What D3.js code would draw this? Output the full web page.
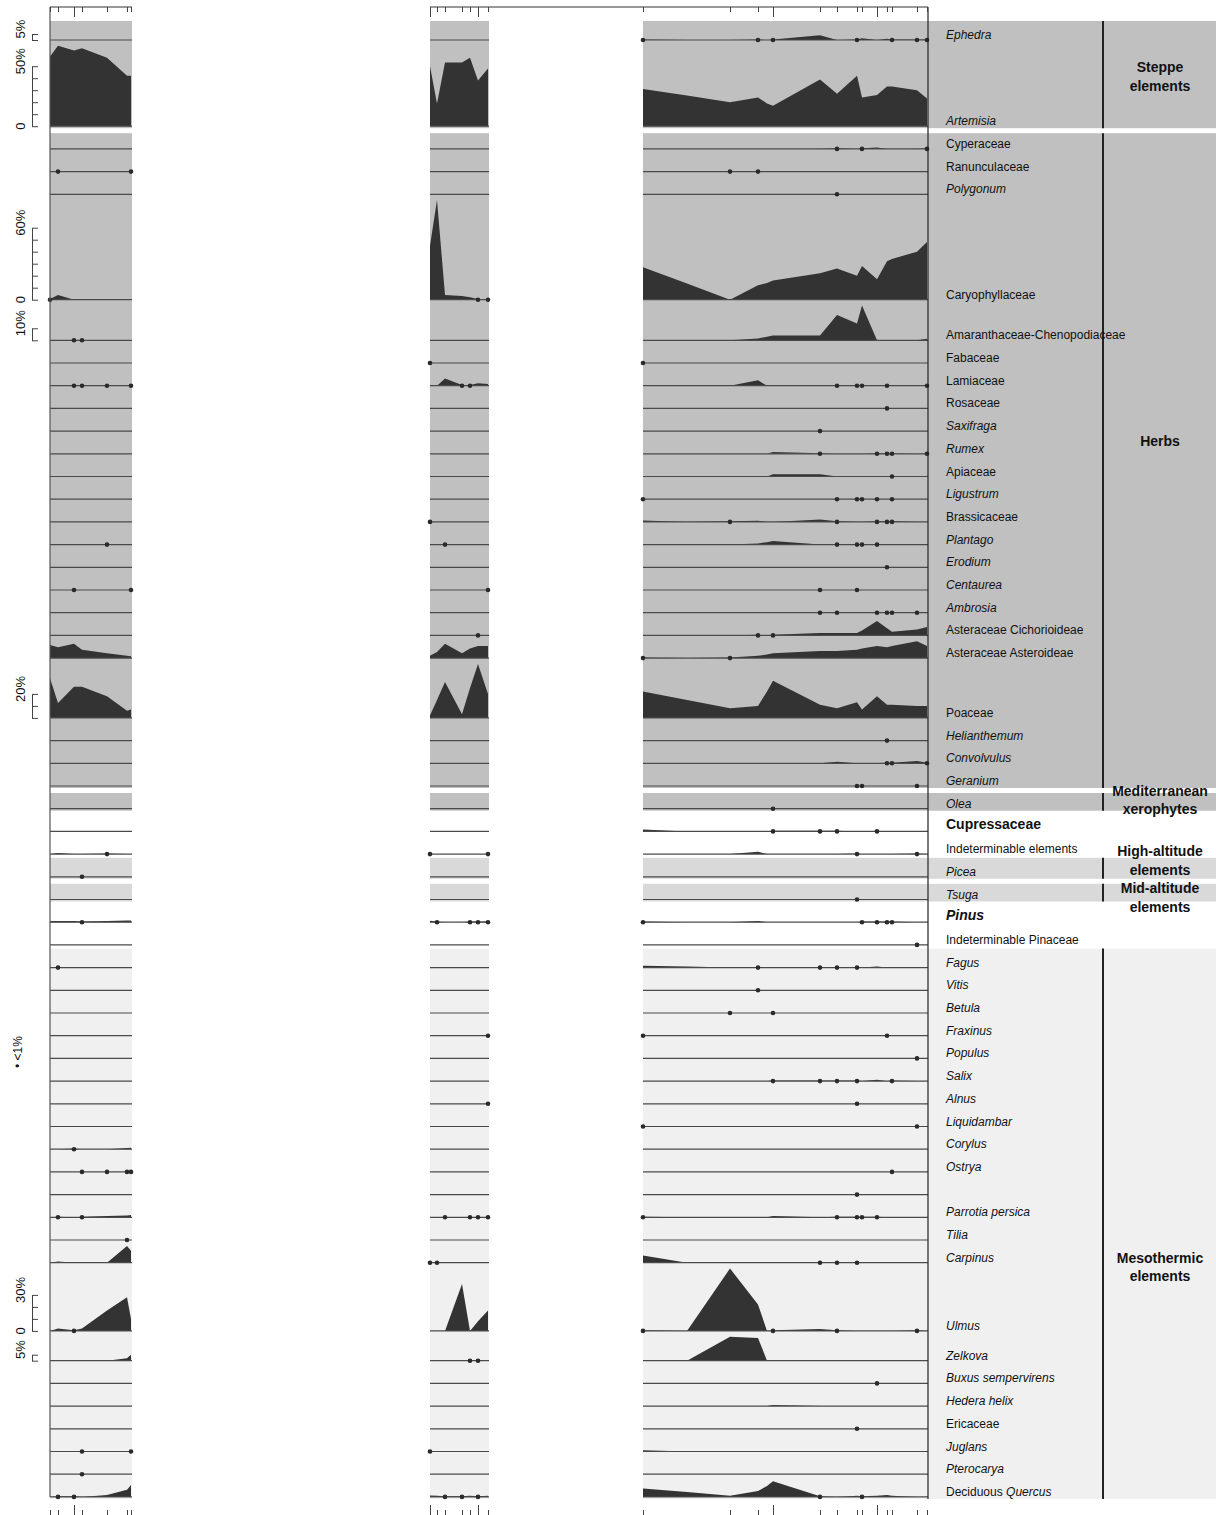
<!DOCTYPE html>
<html>
<head>
<meta charset="utf-8">
<script src="https://cdn.jsdelivr.net/npm/d3@7"></script>
<style>
  body { margin: 0; background: #fff; }
  text { font-family: "Liberation Sans", Arial, sans-serif; fill: #111; }
</style>
</head>
<body>
<div id="diagram"></div>
<script>
////////////////////////////////////////////////////////////////////////////
//////////////////////////////  data   /////////////////////////////////////

// sample depths of the three sections (cm from the section top)
var depthsA = [0, 8, 24, 32, 57, 77, 81];
var depthsB = [0, 7, 15, 32, 40, 48, 58];
var depthsC = [0, 44, 87, 115, 124, 130, 177, 194, 214, 219, 234, 244, 249, 274, 284];

// tick marks drawn on the top / bottom axes (long = reference levels)
var ticksA = [0, 8, 24, 32, 57, 77, 81];
var ticksB = [0, 7, 15, 32, 40, 48, 58];
var ticksC = [0, 87, 115, 130, 177, 194, 214, 219, 234, 244, 249, 274, 284];
var longTicksA = [24];
var longTicksB = [0, 48];
var longTicksC = [130, 234];

var taxa = [
  "Ephedra", "Artemisia",
  "Cyperaceae", "Ranunculaceae", "Polygonum", "Caryophyllaceae", "Amaranthaceae-Chenopodiaceae",
  "Fabaceae", "Lamiaceae", "Rosaceae", "Saxifraga", "Rumex", "Apiaceae", "Ligustrum",
  "Brassicaceae", "Plantago", "Erodium", "Centaurea", "Ambrosia", "Asteraceae Cichorioideae",
  "Asteraceae Asteroideae", "Poaceae", "Helianthemum", "Convolvulus", "Geranium",
  "Olea",
  "Cupressaceae", "Indeterminable elements",
  "Picea", "Tsuga",
  "Pinus", "Indeterminable Pinaceae",
  "Fagus", "Vitis", "Betula", "Fraxinus", "Populus", "Salix", "Alnus", "Liquidambar",
  "Corylus", "Ostrya", "", "Parrotia persica", "Tilia", "Carpinus", "Ulmus", "Zelkova",
  "Buxus sempervirens", "Hedera helix", "Ericaceae", "Juglans", "Pterocarya", "Deciduous Quercus"
];

// percentages, one row per taxon (0.5 = present below 1%)
var valuesA = [
  [0,0,0,0,0,0,0],
  [58,67,63,65,57,42,42],
  [0,0,0,0,0,0,0],
  [0,0.5,0,0,0,0,0.5],
  [0,0,0,0,0,0,0],
  [0.5,4,0,0,0,0,0],
  [0,0,0.5,0.5,0,0,0],
  [0,0,0,0,0,0,0],
  [0,0,0.5,0.5,0.5,0,0.5],
  [0,0,0,0,0,0,0],
  [0,0,0,0,0,0,0],
  [0,0,0,0,0,0,0],
  [0,0,0,0,0,0,0],
  [0,0,0,0,0,0,0],
  [0,0,0,0,0,0,0],
  [0,0,0,0,0.5,0,0],
  [0,0,0,0,0,0,0],
  [0,0,0.5,0,0,0,0.5],
  [0,0,0,0,0,0,0],
  [0,0,0,0,0,0,0],
  [11,9,12,7,4,2,1.5],
  [33,12.5,26,26,18,6,7],
  [0,0,0,0,0,0,0],
  [0,0,0,0,0,0,0],
  [0,0,0,0,0,0,0],
  [0,0,0,0,0,0,0],
  [0,0,0,0,0,0,0],
  [0,1,0,0,0.5,0,0],
  [0,0,0,0.5,0,0,0],
  [0,0,0,0,0,0,0],
  [1,1,1,0.5,1,1.5,1.5],
  [0,0,0,0,0,0,0],
  [0,0.5,0,0,0,0,0],
  [0,0,0,0,0,0,0],
  [0,0,0,0,0,0,0],
  [0,0,0,0,0,0,0],
  [0,0,0,0,0,0,0],
  [0,0,0,0,0,0,0],
  [0,0,0,0,0,0,0],
  [0,0,0,0,0,0,0],
  [0,0,0.5,0,0,1,1.2],
  [0,0,0,0.5,0.5,0.5,0.5],
  [0,0,0,0,0,0,0],
  [0,0.5,0,0.5,1,1.5,2],
  [0,0,0,0,0,0.5,0],
  [0,1,0,0,0,14,10],
  [0,2,0.5,2,17,28,10],
  [0,0,0,0,0,2,5],
  [0,0,0,0,0,0,0],
  [0,0,0,0,0,0,0],
  [0,0,0,0,0,0,0],
  [0,0,0,0.5,0,0,0.5],
  [0,0,0,0.5,0,0,0],
  [0,0.5,0.5,0,1.5,6,10]
];

var valuesB = [
  [0,0,0,0,0,0,0],
  [50,19,53,53,57,38,48],
  [0,0,0,0,0,0,0],
  [0,0,0,0,0,0,0],
  [0,0,0,0,0,0,0],
  [45,83,4,3,2,0.5,0.5],
  [0,0,0,0,0,0,0],
  [0.5,0,0,0,0,0,0],
  [0,0,6,0.5,0.5,2,1.5],
  [0,0,0,0,0,0,0],
  [0,0,0,0,0,0,0],
  [0,0,0,0,0,0,0],
  [0,0,0,0,0,0,0],
  [0,0,0,0,0,0,0],
  [0.5,0,0,0,0,0,0],
  [0,0,0.5,0,0,0,0],
  [0,0,0,0,0,0,0],
  [0,0,0,0,0,0,0.5],
  [0,0,0,0,0,0,0],
  [0,0,0,0,0,0.5,0],
  [2,5,12,4,8,10,10],
  [2,15,30,3,25,45,20],
  [0,0,0,0,0,0,0],
  [0,0,0,0,0,0,0],
  [0,0,0,0,0,0,0],
  [0,0,0,0,0,0,0],
  [0,0,0,0,0,0,0],
  [0.5,0,0,0,0,0,0.5],
  [0,0,0,0,0,0,0],
  [0,0,0,0,0,0,0],
  [1.2,0.5,0,0,0.5,0.5,0.5],
  [0,0,0,0,0,0,0],
  [0,0,0,0,0,0,0],
  [0,0,0,0,0,0,0],
  [0,0,0,0,0,0,0],
  [0,0,0,0,0,0,0.5],
  [0,0,0,0,0,0,0],
  [0,0,0,0,0,0,0],
  [0,0,0,0,0,0,0.5],
  [0,0,0,0,0,0,0],
  [0,0,0,0,0,0,0],
  [0,0,0,0,0,0,0],
  [0,0,0,0,0,0,0],
  [0,0,0.5,0,0.5,0.5,0.5],
  [0,0,0,0,0,0,0],
  [0.5,0.5,0,0,0,0,0],
  [0,0,0,39,0,8,17],
  [0,0,0,0,0.5,0.5,0],
  [0,0,0,0,0,0,0],
  [0,0,0,0,0,0,0],
  [0,0,0,0,0,0,0],
  [0.5,0,0,0,0,0,0],
  [0,0,0,0,0,0,0],
  [1.2,1,0.5,0.5,1,0.5,1]
];

var valuesC = [
  [0.5,0,0,0.5,0,0.5,4,0,0.5,1.5,0,1,0.5,0.5,0.5],
  [31,25.5,20,24,19,17,39,27,42,24,26,33,33,30,23],
  [0,0,0,0,0,0,0,0.5,0,0.5,1.2,0,0,0,0.5],
  [0,0,0.5,0.5,0,0,0,0,0,0,0,0,0,0,0],
  [0,0,0,0,0,0,0,0.5,0,0,0,0,0,0,0],
  [27,13.5,0,12,14,16,22,26,20,28,17,32,34,40,48],
  [0,0,0,1.5,3,4,4,21,14,29,0,0,0,0,1.2],
  [0.5,0,0,0,0,0,0,0,0,0,0,0,0,0,0],
  [0,0,0,4.5,0,0,0,0.5,0.5,0.5,0,0.5,0,0,0.5],
  [0,0,0,0,0,0,0,0,0,0,0,0.5,0,0,0],
  [0,0,0,0,0,0,0.5,0,0,0,0,0,0,0,0],
  [0,0,0,0,0,1.5,0.5,0,0,0,0.5,0.5,0.5,0,0.5],
  [0,0,0,0,0,1.8,1.8,0,0,0,0,0,0.5,0,0],
  [0.5,0,0,0,0,0,0,0.5,0.5,0.5,0.5,0,0.5,0,0],
  [1.2,0,0.5,1,0,0,2,0.5,0,0,0.5,0.5,0.5,0,0],
  [0,0,0,1,2,3,0,0.5,0.5,0.5,0.5,0,0,0,0],
  [0,0,0,0,0,0,0,0,0,0,0,0.5,0,0,0],
  [0,0,0,0,0,0,0.5,0,0.5,0,0,0,0,0,0],
  [0,0,0,0,0,0,0.5,0.5,0,0,0.5,0.5,0.5,0.5,0],
  [0,0,0,0.5,0,0.5,2,2,2,4,12,6,3,5,7],
  [0.5,0,0.5,2,3,4,6,6,7,8,10,9,10,14,10],
  [22,15,8,10,22,31,11,8,13,7,18,11,11,10,10],
  [0,0,0,0,0,0,0,0,0,0,0,0.5,0,0,0],
  [0,0,0,0,0,0,0,1.2,0,0,0,0.5,0.5,2,0.5],
  [0,0,0,0,0,0,0,0,0.5,0.5,0,0,0,0.5,0],
  [0,0,0,0,0,0.5,0,0,0,0,0,0,0,0,0],
  [1.5,0,0,0,0,0.5,0.5,0.5,0,0,0.5,0,0,0,0],
  [0,0,0,2,0,0,0,0,0.5,0,0,0,0,0.5,0],
  [0,0,0,0,0,0,0,0,0,0,0,0,0,0,0],
  [0,0,0,0,0,0,0,0,0.5,0,0,0,0,0,0],
  [0.5,0,0,1,0,0,0,0,0,0.5,0.5,0.5,0.5,0,0],
  [0,0,0,0,0,0,0,0,0,0,0,0,0,0.5,0],
  [1.5,1,0,0.5,0,0,0.5,0.5,0.5,0,1,0,0,0,0],
  [0,0,0,0.5,0,0,0,0,0,0,0,0,0,0,0],
  [0,0,0.5,0,0,0.5,0,0,0,0,0,0,0,0,0],
  [0.5,0,0,0,0,0,0,0,0,0,0,0.5,0,0,0],
  [0,0,0,0,0,0,0,0,0,0,0,0,0,0.5,0],
  [0,0,0,0,0,0.5,0.5,0.5,0.5,0,1.2,0,0.5,0,0],
  [0,0,0,0,0,0,0,0,0.5,0,0,0,0,0,0],
  [0.5,0,0,0,0,0,0,0,0,0,0,0,0,0.5,0],
  [0,0,0,0,0,0,0,0,0,0,0,0,0,0,0],
  [0,0,0,0,0,0,0,0,0,0,0,0,0.5,0,0],
  [0,0,0,0,0,0,0,0,0.5,0,0,0,0,0,0],
  [0.5,0,0,0,0,1,0,0.5,0.5,0.5,0.5,0,0,0,0],
  [0,0,0,0,0,0,0,0,0,0,0,0,0,0,0],
  [6,0,0,0,0,0,0.5,0.5,0.5,0,0,0,0,0,0],
  [0.5,0,52,22,0,0.5,1.5,0.5,0,0,0,0,0,0.5,0],
  [0,0,20,19,0,0,0,0,0,0,0,0,0,0,0],
  [0,0,0,0,0,0,0,0,0,0,0.5,0,0,0,0],
  [0,0,0,0,0,1,0,0,0,0,0,0,0,0,0],
  [0,0,0,0,0,0,0,0,0.5,0,0,0,0,0,0],
  [1,0,0,0,0,0,0,0,0,0,0,0,0,0,0],
  [0,0,0,0,0,0,0,0,0,0,0,0,0,0,0],
  [7,4,1,5,9,13,0.5,0,1,0.5,1,1.5,1,0,0]
];

var italicTaxa = ["Ephedra","Artemisia","Polygonum","Saxifraga","Rumex","Ligustrum","Plantago","Erodium",
  "Centaurea","Ambrosia","Helianthemum","Convolvulus","Geranium","Olea","Picea","Tsuga","Pinus","Fagus",
  "Vitis","Betula","Fraxinus","Populus","Salix","Alnus","Liquidambar","Corylus","Ostrya","Parrotia persica",
  "Tilia","Carpinus","Ulmus","Zelkova","Buxus sempervirens","Hedera helix","Juglans","Pterocarya"];
var boldTaxa = ["Cupressaceae", "Pinus"];

var groups = [
  {name: ["Steppe", "elements"], first: "Ephedra", last: "Artemisia", fill: "#c0c0c0"},
  {name: ["Herbs"], first: "Cyperaceae", last: "Geranium", fill: "#c0c0c0"},
  {name: ["Mediterranean", "xerophytes"], first: "Olea", last: "Olea", fill: "#c0c0c0"},
  {name: ["High-altitude", "elements"], first: "Picea", last: "Picea", fill: "#d9d9d9"},
  {name: ["Mid-altitude", "elements"], first: "Tsuga", last: "Tsuga", fill: "#d9d9d9"},
  {name: ["Mesothermic", "elements"], first: "Fagus", last: "Deciduous Quercus", fill: "#f0f0f0"}
];
var groupLabelNudge = [2, -20, -2, -8, 5, 43];

// percentage scale bars on the left
var scaleBars = [
  {taxon: "Ephedra", max: 5, zero: false},
  {taxon: "Artemisia", max: 50, zero: true},
  {taxon: "Caryophyllaceae", max: 60, zero: true},
  {taxon: "Amaranthaceae-Chenopodiaceae", max: 10, zero: false},
  {taxon: "Poaceae", max: 20, zero: false},
  {taxon: "Ulmus", max: 30, zero: true},
  {taxon: "Zelkova", max: 5, zero: false}
];

////////////////////////////////////////////////////////////////////////////
//////////////////////////////  layout   ///////////////////////////////////
var width = 1216, height = 1515;
var rowStep = 22.7;
var topY = 7, bottomY = 1515;

var pct = d3.scaleLinear().domain([0, 100]).range([0, 120]);

var panels = [
  {depths: depthsA, values: valuesA, x: d3.scaleLinear().domain([0, 82]).range([50, 132]), ticks: ticksA, long: longTicksA},
  {depths: depthsB, values: valuesB, x: d3.scaleLinear().domain([0, 59]).range([430, 489]), ticks: ticksB, long: longTicksB},
  {depths: depthsC, values: valuesC, x: d3.scaleLinear().domain([0, 285]).range([643, 928]), ticks: ticksC, long: longTicksC}
];

// baseline of every row, height grows with the row maximum
var baselines = [];
var acc = 40 - rowStep;
taxa.forEach(function(t, i) {
  var m = d3.max([].concat(valuesA[i], valuesB[i], valuesC[i]));
  acc += Math.max(rowStep, pct(m) + 5.8);
  baselines.push(acc);
});
var lastBase = baselines[baselines.length - 1];

var svg = d3.select("#diagram")
  .append("svg")
  .attr("width", width)
  .attr("height", height);

////////////////////////////////////////////////////////////////////////////
//////////////////////////////  group bands   //////////////////////////////
var bandG = svg.append("g").attr("class", "bands");
var prevBottom = -100;
groups.forEach(function(g, gi) {
  var top = baselines[taxa.indexOf(g.first)] - 19;
  var bot = baselines[taxa.indexOf(g.last)] + 2;
  if (top < prevBottom + 5) top = prevBottom + 5;   // white gap between touching groups
  prevBottom = bot;

  var spans = [[50, 132], [430, 489], [643, 1216]];
  spans.forEach(function(s) {
    bandG.append("rect")
      .attr("x", s[0]).attr("y", top)
      .attr("width", s[1] - s[0]).attr("height", bot - top)
      .attr("fill", g.fill);
  });
  bandG.append("line")
    .attr("x1", 1103).attr("x2", 1103)
    .attr("y1", top).attr("y2", bot)
    .attr("stroke", "#222").attr("stroke-width", 2);

  var cy = (top + bot) / 2 + groupLabelNudge[gi];
  var lh = 18.5;
  g.name.forEach(function(line, li) {
    bandG.append("text")
      .attr("x", 1160)
      .attr("y", cy - (g.name.length - 1) * lh / 2 + li * lh + 5)
      .attr("text-anchor", "middle")
      .attr("font-size", "14px")
      .attr("font-weight", "bold")
      .text(line);
  });
});

////////////////////////////////////////////////////////////////////////////
//////////////////////////////  curves   ///////////////////////////////////
var curveG = svg.append("g").attr("class", "curves");
taxa.forEach(function(t, i) {
  var b = baselines[i];
  panels.forEach(function(p) {
    var vals = p.values[i];
    var pts = p.depths.map(function(d, k) { return {d: d, v: vals[k]}; });

    if (d3.max(vals) >= 1) {
      var area = d3.area()
        .x(function(d) { return p.x(d.d); })
        .y0(b)
        .y1(function(d) { return b - pct(d.v); });
      curveG.append("path")
        .datum(pts)
        .attr("d", area)
        .attr("fill", "#333");
    }

    curveG.append("line")
      .attr("x1", p.x.range()[0]).attr("x2", p.x.range()[1])
      .attr("y1", b).attr("y2", b)
      .attr("stroke", "#4a4a4a").attr("stroke-width", 1.2);

    curveG.selectAll(null)
      .data(pts.filter(function(d) { return d.v > 0 && d.v < 1; }))
      .enter()
      .append("circle")
      .attr("cx", function(d) { return p.x(d.d); })
      .attr("cy", b)
      .attr("r", 2.3)
      .attr("fill", "#2a2a2a");
  });

  // taxon label
  if (t === "Deciduous Quercus") {
    var lab = svg.append("text").attr("x", 946).attr("y", b - 1).attr("font-size", "12px");
    lab.append("tspan").text("Deciduous ");
    lab.append("tspan").attr("font-style", "italic").text("Quercus");
  } else if (t !== "") {
    var bold = boldTaxa.indexOf(t) >= 0;
    svg.append("text")
      .attr("x", 946)
      .attr("y", b - (bold ? 2 : 1))
      .attr("font-size", bold ? "14px" : "12px")
      .attr("font-weight", bold ? "bold" : "normal")
      .attr("font-style", italicTaxa.indexOf(t) >= 0 ? "italic" : "normal")
      .text(t);
  }
});

////////////////////////////////////////////////////////////////////////////
//////////////////////////////  frame and depth ticks   ////////////////////
svg.append("line").attr("x1", 50).attr("x2", 132).attr("y1", topY).attr("y2", topY)
  .attr("stroke", "#333").attr("stroke-width", 1);
svg.append("line").attr("x1", 430).attr("x2", 928).attr("y1", topY).attr("y2", topY)
  .attr("stroke", "#333").attr("stroke-width", 1);
svg.append("line").attr("x1", 50).attr("x2", 50).attr("y1", topY).attr("y2", lastBase)
  .attr("stroke", "#555").attr("stroke-width", 1.2);
svg.append("line").attr("x1", 928).attr("x2", 928).attr("y1", topY).attr("y2", lastBase + 2)
  .attr("stroke", "#222").attr("stroke-width", 1.2);

panels.forEach(function(p) {
  var shortTicks = p.ticks.filter(function(d) { return p.long.indexOf(d) < 0; });
  [[shortTicks, 5], [p.long, 10]].forEach(function(set) {
    var top = svg.append("g")
      .attr("transform", "translate(0," + topY + ")")
      .call(d3.axisBottom(p.x).tickValues(set[0]).tickSize(set[1]).tickFormat(""));
    var bot = svg.append("g")
      .attr("transform", "translate(0," + bottomY + ")")
      .call(d3.axisTop(p.x).tickValues(set[0]).tickSize(set[1]).tickFormat(""));
    [top, bot].forEach(function(a) {
      a.select(".domain").remove();
      a.selectAll(".tick line").attr("stroke", "#444");
    });
  });
});

////////////////////////////////////////////////////////////////////////////
//////////////////////////////  percentage scale bars   ////////////////////
scaleBars.forEach(function(s) {
  var b = baselines[taxa.indexOf(s.taxon)];
  var y = d3.scaleLinear().domain([0, s.max]).range([b, b - pct(s.max)]);
  var step = s.max >= 10 ? 10 : 5;
  var ax = svg.append("g")
    .attr("transform", "translate(32,0)")
    .call(d3.axisRight(y).tickValues(d3.range(0, s.max + 0.1, step)).tickSize(6).tickSizeOuter(0).tickFormat(""));
  ax.selectAll("path, line").attr("stroke", "#444");

  svg.append("text")
    .attr("transform", "translate(25," + (b - pct(s.max) - 5) + ") rotate(-90)")
    .attr("text-anchor", "middle")
    .attr("font-size", "13px")
    .text(s.max + "%");
  if (s.zero) {
    svg.append("text")
      .attr("transform", "translate(25," + b + ") rotate(-90)")
      .attr("text-anchor", "middle")
      .attr("font-size", "13px")
      .text("0");
  }
});

// legend for rare occurrences
svg.append("text")
  .attr("transform", "translate(22,1052) rotate(-90)")
  .attr("text-anchor", "middle")
  .attr("font-size", "12px")
  .text("\u2022 <1%");
</script>
</body>
</html>
